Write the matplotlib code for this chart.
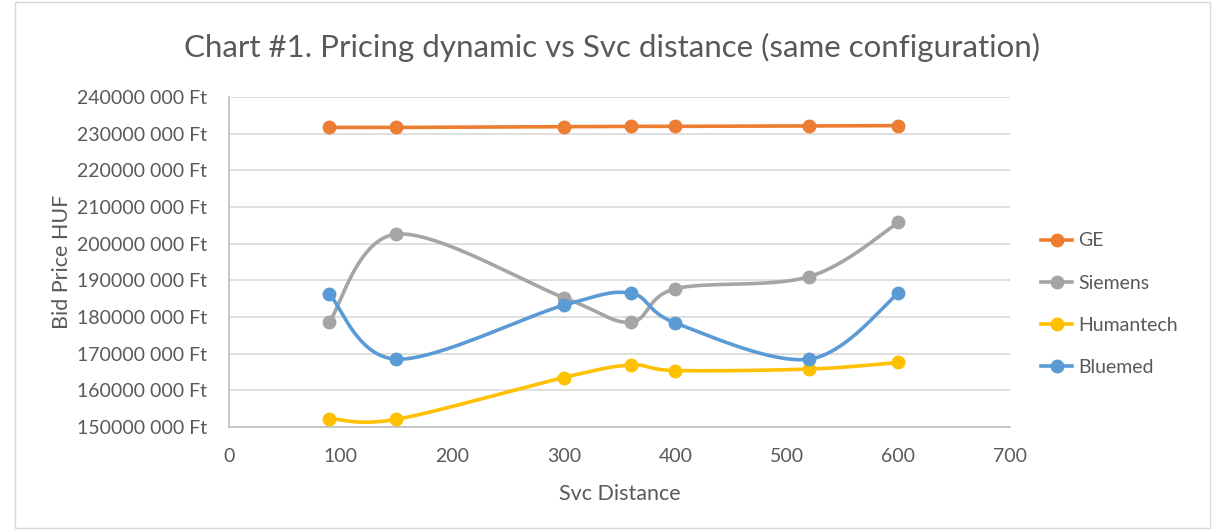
import numpy as np
import matplotlib
matplotlib.use("Agg")
import matplotlib.pyplot as plt
from matplotlib.patches import Rectangle

plt.rcParams['font.family'] = ['Lato', 'DejaVu Sans']

# data (prices in HUF)
distance = [90, 150, 300, 360, 400, 520, 600]
ge = [231.7e6, 231.7e6, 231.9e6, 232.0e6, 232.0e6, 232.1e6, 232.2e6]
siemens = [178.7e6, 202.6e6, 185.3e6, 178.6e6, 187.7e6, 191.0e6, 205.8e6]
humantech = [152.3e6, 152.1e6, 163.5e6, 166.9e6, 165.4e6, 165.8e6, 167.6e6]
bluemed = [186.2e6, 168.5e6, 183.2e6, 186.5e6, 178.4e6, 168.5e6, 186.5e6]

series = [("GE", ge, "#ED7D31"),
          ("Siemens", siemens, "#A5A5A5"),
          ("Humantech", humantech, "#FFC000"),
          ("Bluemed", bluemed, "#5B9BD5")]

xlim = (0, 700)
ylim = (150e6, 240e6)
text_col = "#595959"


def smooth(xs, ys, n=40):
    # excel style smoothed line: catmull-rom bezier, done in axis-scaled space
    sx = (xlim[1] - xlim[0]) / 781.0
    sy = (ylim[1] - ylim[0]) / 330.0
    p = np.column_stack([np.array(xs) / sx, np.array(ys) / sy])
    out = []
    for i in range(len(p) - 1):
        p0 = p[i - 1] if i > 0 else p[i]
        p1, p2 = p[i], p[i + 1]
        p3 = p[i + 2] if i + 2 < len(p) else p[i + 1]
        c1 = p1 + (p2 - p0) / 6.0
        c2 = p2 - (p3 - p1) / 6.0
        t = np.linspace(0, 1, n)[:, None]
        seg = ((1 - t) ** 3) * p1 + 3 * ((1 - t) ** 2) * t * c1 + 3 * (1 - t) * t ** 2 * c2 + t ** 3 * p2
        out.append(seg if i == 0 else seg[1:])
    out = np.vstack(out)
    return out[:, 0] * sx, out[:, 1] * sy


fig = plt.figure(figsize=(12.12, 5.31), dpi=100)
ax = fig.add_axes([229 / 1212, 1 - 427 / 531, 781 / 1212, 330 / 531])

for name, vals, col in series:
    cx, cy = smooth(distance, vals)
    ax.plot(cx, cy, color=col, lw=2.6, solid_capstyle="round", zorder=3)
    ax.plot(distance, vals, "o", color=col, ms=9, zorder=4)
    ax.plot([], [], "-o", color=col, lw=2.6, ms=9, label=name)

ax.set_xlim(*xlim)
ax.set_ylim(*ylim)
ax.set_xticks(range(0, 701, 100))
yt = np.arange(150e6, 240e6 + 1, 10e6)
ax.set_yticks(yt)
ax.set_yticklabels([f"{int(v // 1000000)}{int(v // 1000) % 1000:03d} {int(v) % 1000:03d} Ft" for v in yt])
ax.grid(axis="y", color="#D9D9D9", lw=1.2)
ax.set_axisbelow(True)
for s in ["top", "right"]:
    ax.spines[s].set_visible(False)
ax.spines["left"].set_color("#BFBFBF")
ax.spines["bottom"].set_color("#BFBFBF")
ax.spines["left"].set_linewidth(1.2)
ax.spines["bottom"].set_linewidth(1.2)
ax.tick_params(length=0, labelsize=14, labelcolor=text_col)
ax.tick_params(axis="y", pad=16)
ax.tick_params(axis="x", pad=15)

ax.set_xlabel("Svc Distance", fontsize=15.5, color=text_col, labelpad=14)
ax.set_ylabel("Bid Price HUF", fontsize=15.5, color=text_col, labelpad=3)
fig.text(0.505, 1 - 47 / 531, "Chart #1. Pricing dynamic vs Svc distance (same configuration)",
         ha="center", va="center", fontsize=22.5, color=text_col)

leg = ax.legend(loc="center left", bbox_to_anchor=(1.03, 0.372), frameon=False,
                fontsize=14, labelcolor=text_col, handlelength=1.6,
                labelspacing=1.3, handletextpad=0.3, borderaxespad=0)

fig.patches.append(Rectangle((15 / 1212, 3 / 531), 1195 / 1212, 526 / 531,
                             transform=fig.transFigure, fill=False,
                             edgecolor="#D9D9D9", lw=1))

fig.savefig("out.png", dpi=100)
